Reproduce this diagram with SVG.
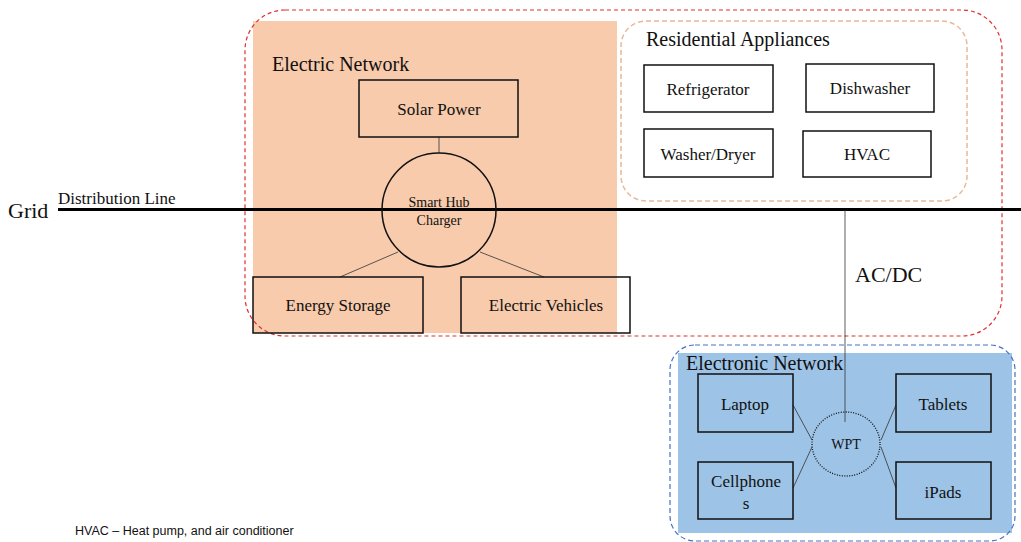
<svg xmlns="http://www.w3.org/2000/svg" width="1021" height="542" viewBox="0 0 1021 542">
<style>
text{font-family:"Liberation Serif","Times New Roman",serif;fill:#111}
.box{fill:none;stroke:#111;stroke-width:1.5}
.lbl{font-size:17px;text-anchor:middle}
.ttl{font-size:20px}
.conn{stroke:#333;stroke-width:0.8;fill:none}
</style>
<rect width="1021" height="542" fill="#fff"/>
<g id="electric-network">
<rect x="253" y="21" width="364" height="312" fill="#F7CBAC"/>
<rect x="245" y="10" width="757" height="326" rx="40" fill="none" stroke="#E03030" stroke-width="1.2" stroke-dasharray="4,3"/>
<text x="272" y="71" class="ttl">Electric Network</text>
</g>
<g id="residential">
<rect x="621" y="21" width="346" height="180" rx="25" fill="none" stroke="#E8B898" stroke-width="1.5" stroke-dasharray="5,3"/>
<text x="646" y="46" class="ttl">Residential Appliances</text>
</g>
<g id="electronic-network">
<rect x="678" y="353" width="334" height="180" fill="#9DC3E6"/>
<rect x="670" y="345" width="345" height="196" rx="25" fill="none" stroke="#4472C4" stroke-width="1.2" stroke-dasharray="5,3"/>
<text x="686" y="370" class="ttl">Electronic Network</text>
</g>
<g id="connectors">
<line x1="58" y1="209.5" x2="1021" y2="209.5" stroke="#000" stroke-width="3"/>
<line class="conn" x1="439" y1="137" x2="439" y2="153"/>
<line class="conn" x1="398" y1="252" x2="340" y2="277"/>
<line class="conn" x1="480" y1="252" x2="544" y2="277"/>
<line class="conn" x1="845" y1="210" x2="845" y2="422"/>
<line class="conn" x1="793" y1="405" x2="812" y2="440"/>
<line class="conn" x1="793" y1="488" x2="812" y2="447"/>
<line class="conn" x1="896" y1="405" x2="881" y2="440"/>
<line class="conn" x1="896" y1="488" x2="881" y2="447"/>
</g>
<g id="grid-label">
<text x="8" y="218" font-size="22">Grid</text>
<text x="58" y="204" font-size="17">Distribution Line</text>
</g>
<g id="solar-power">
<rect class="box" x="359" y="80" width="159" height="57"/>
<text x="439" y="115" class="lbl">Solar Power</text>
</g>
<g id="smart-hub">
<circle cx="439" cy="210" r="57" fill="none" stroke="#111" stroke-width="1.5"/>
<text x="439" y="207" font-size="14" text-anchor="middle">Smart Hub</text>
<text x="439" y="225" font-size="14" text-anchor="middle">Charger</text>
</g>
<g id="energy-storage">
<rect class="box" x="253" y="277" width="170" height="56"/>
<text x="338" y="311" class="lbl">Energy Storage</text>
</g>
<g id="electric-vehicles">
<rect class="box" x="461" y="277" width="169" height="56"/>
<text x="546" y="311" class="lbl">Electric Vehicles</text>
</g>
<g id="refrigerator">
<rect class="box" x="644" y="65" width="129" height="47"/>
<text x="708" y="95" class="lbl">Refrigerator</text>
</g>
<g id="dishwasher">
<rect class="box" x="806" y="64" width="128" height="48"/>
<text x="870" y="94" class="lbl">Dishwasher</text>
</g>
<g id="washer-dryer">
<rect class="box" x="644" y="129" width="129" height="48"/>
<text x="708" y="160" class="lbl">Washer/Dryer</text>
</g>
<g id="hvac">
<rect class="box" x="803" y="131" width="128" height="46"/>
<text x="867" y="160" class="lbl">HVAC</text>
</g>
<g id="ac-dc">
<text x="855" y="282" font-size="22">AC/DC</text>
</g>
<g id="laptop">
<rect class="box" x="698" y="374" width="95" height="58"/>
<text x="745" y="410" class="lbl">Laptop</text>
</g>
<g id="cellphones">
<rect class="box" x="698" y="462" width="95" height="57"/>
<text x="746" y="487" class="lbl">Cellphone</text>
<text x="746" y="509" class="lbl">s</text>
</g>
<g id="wpt">
<ellipse cx="846" cy="444" rx="34" ry="32" fill="none" stroke="#111" stroke-width="1.3" stroke-dasharray="1,1.5"/>
<text x="846" y="449" font-size="14" text-anchor="middle">WPT</text>
</g>
<g id="tablets">
<rect class="box" x="896" y="374" width="95" height="58"/>
<text x="943" y="410" class="lbl">Tablets</text>
</g>
<g id="ipads">
<rect class="box" x="896" y="462" width="95" height="57"/>
<text x="943" y="498" class="lbl">iPads</text>
</g>
<g id="footnote">
<text x="75" y="535" font-size="12.5" style="font-family:'Liberation Sans',Arial,sans-serif">HVAC – Heat pump, and air conditioner</text>
</g>
</svg>
